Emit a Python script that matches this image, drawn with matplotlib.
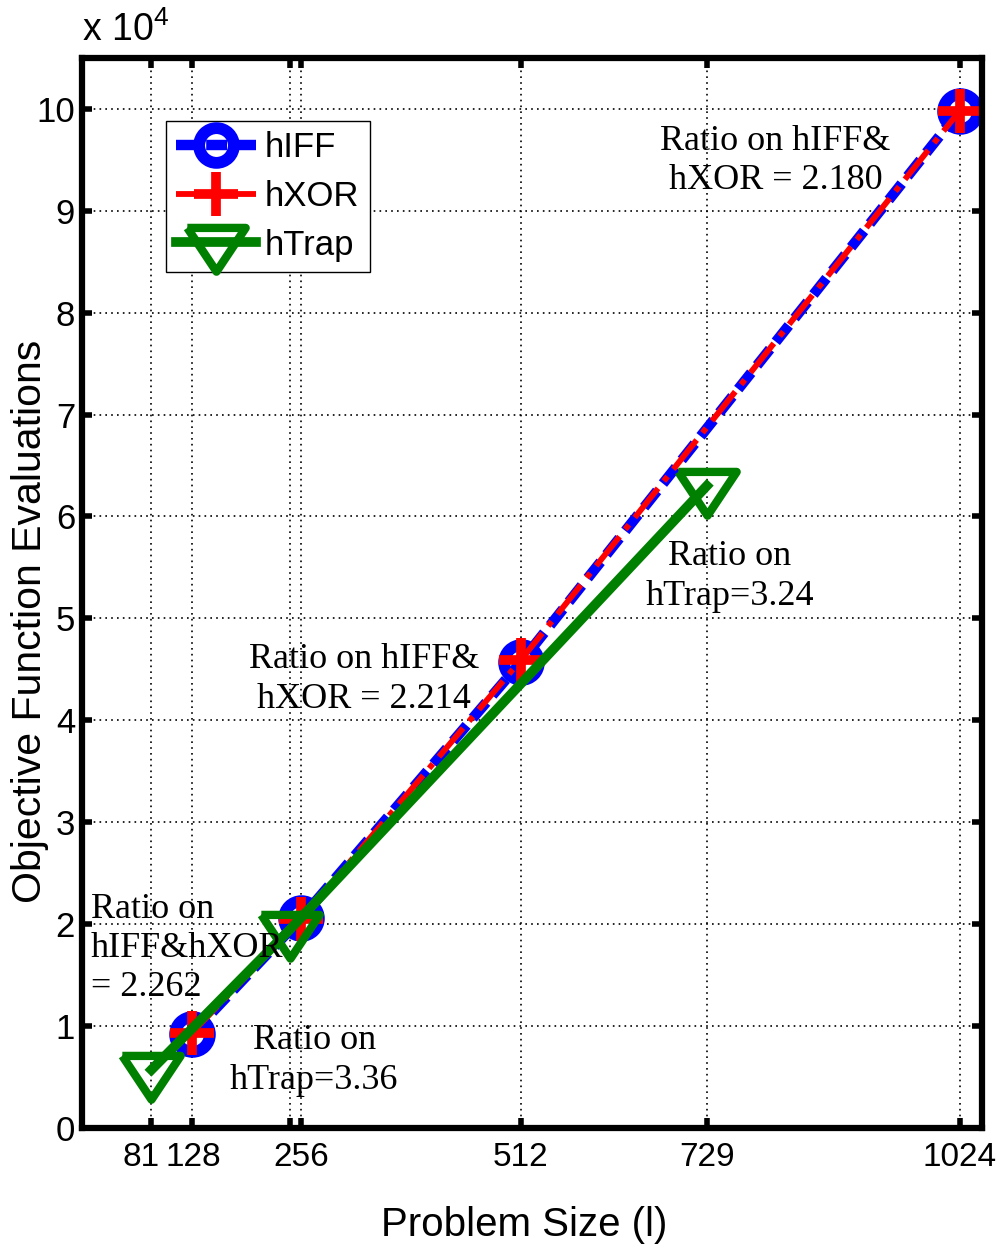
import matplotlib
matplotlib.use('Agg')
import matplotlib.pyplot as plt
import matplotlib.transforms as mtransforms
import numpy as np

plt.rcParams['font.family'] = ['Liberation Sans', 'DejaVu Sans']
plt.rcParams['mathtext.fontset'] = 'custom'
plt.rcParams['mathtext.rm'] = 'Liberation Sans'

# data
size_hiff = [128, 256, 512, 1024]
evals_hiff = [9200, 20600, 45700, 99800]
size_hxor = [128, 256, 512, 1024]
evals_hxor = [9300, 20500, 45900, 99800]
size_htrap = [81, 243, 729]
evals_htrap = [5700, 19500, 63000]

xticks = [81, 128, 243, 256, 512, 729, 1024]
xticklabels = ['81', '128', '', '256', '512', '729', '1024']
yticks = [0, 1e4, 2e4, 3e4, 4e4, 5e4, 6e4, 7e4, 8e4, 9e4, 1e5]

notes = [
    ('Ratio on hIFF&\nhXOR = 2.180', 809, 9.49e4, 'center'),
    ('Ratio on\nhTrap=3.24', 756, 5.41e4, 'center'),
    ('Ratio on hIFF&\nhXOR = 2.214', 329, 4.40e4, 'center'),
    ('Ratio on\nhIFF&hXOR\n= 2.262', 10, 1.76e4, 'left'),
    ('Ratio on\nhTrap=3.36', 271, 0.66e4, 'center'),
]

# MATLAB-like down triangle, centroid on the data point
tri = [(-1, 0.5), (1, 0.5), (0, -1), (-1, 0.5)]

fig = plt.figure(figsize=(10.06, 12.49), dpi=100)
ax = fig.add_axes([0.0815, 0.097, 0.8946, 0.8567])

ax.plot(size_hiff, evals_hiff, '--', color='blue', lw=7.5, dashes=(2.0, 0.9),
        marker='o', ms=25, mew=8.5, mfc='none', mec='blue', label='hIFF')
ax.plot(size_hxor, evals_hxor, '-.', color='red', lw=4.2,
        marker='+', ms=32, mew=7, label='hXOR')
ax.plot(size_htrap, evals_htrap, '-', color='green', lw=7,
        marker=tri, ms=42, mew=6, mfc='none', mec='green', label='hTrap')

for txt, x, y, ha in notes:
    ax.text(x, y, txt, ha=ha, va='center', fontsize=26,
            family='Liberation Serif', linespacing=1.25)

ax.set_xlim(0, 1050)
ax.set_ylim(0, 1.05e5)
ax.set_xticks(xticks)
ax.set_xticklabels(xticklabels)
ax.set_yticks(yticks)
ax.set_yticklabels([str(int(v / 1e4)) for v in yticks])
ax.text(0.0, 1.008, r'x 10$^4$', transform=ax.transAxes, ha='left', va='bottom',
        fontsize=27)

ax.grid(True, color='black', linestyle=(0, (1, 2.5)), lw=1.2)
ax.tick_params(direction='in', length=7, width=4, labelsize=25,
               top=True, right=True)
ax.tick_params(axis='x', pad=10, labelsize=24)
ax.tick_params(axis='y', pad=5)
for s in ax.spines.values():
    s.set_linewidth(4.5)

# nudge the crowded 81 / 128 labels apart like MATLAB does
lbls = ax.get_xticklabels()
lbls[0].set_transform(lbls[0].get_transform() +
                      mtransforms.ScaledTranslation(-0.1, 0, fig.dpi_scale_trans))
lbls[1].set_transform(lbls[1].get_transform() +
                      mtransforms.ScaledTranslation(0.02, 0, fig.dpi_scale_trans))

ax.set_xlabel('Problem Size (l)', fontsize=29)
ax.xaxis.set_label_coords(0.491, -0.091)
ax.xaxis.label.set_va('center')
ax.set_ylabel('Objective Function Evaluations', fontsize=29.5)
ax.yaxis.set_label_coords(-0.058, 0.473)
ax.yaxis.label.set_va('center')

leg = ax.legend(loc='upper left', bbox_to_anchor=(0.093, 0.941), fontsize=25,
                numpoints=1, handlelength=2.3, handletextpad=0.25,
                borderpad=0.3, labelspacing=0.45, borderaxespad=0,
                fancybox=False, framealpha=1, edgecolor='black')
leg.get_frame().set_linewidth(1.0)

fig.savefig('out.png', dpi=100)
